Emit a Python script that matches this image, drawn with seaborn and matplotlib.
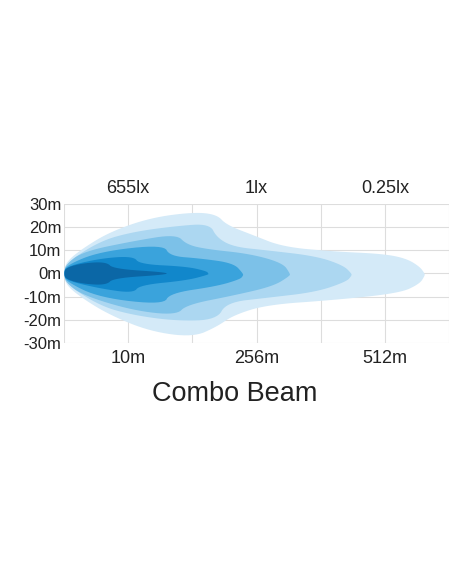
import numpy as np
import matplotlib
matplotlib.use("Agg")
import matplotlib.pyplot as plt
import seaborn as sns

# beam contours: x in grid units (0..6), upper/lower half widths in metres
c1_ux = [0, 0.03, 0.30, 0.72, 1.34, 2.01, 2.38, 2.53, 2.95, 3.41, 4.19, 4.97, 5.33, 5.54, 5.62]
c1_uy = [0, 5, 11, 18, 24, 26.5, 25.5, 21, 16.5, 11.5, 9.5, 8.5, 6.5, 3, 0]
c1_lx = [5.62, 5.54, 5.23, 4.19, 3.16, 2.64, 2.38, 2.01, 1.34, 0.72, 0.30, 0.03]
c1_ly = [-1, -4.5, -8.5, -11.5, -13.5, -18, -23, -27.5, -25, -18, -11, -5]

c2_ux = [0, 0.03, 0.56, 1.08, 1.75, 2.27, 2.38, 2.64, 3.16, 3.93, 4.35, 4.48]
c2_uy = [0, 4.5, 14, 18, 20.5, 21.5, 15.5, 11.5, 10, 7.5, 3.5, 0]
c2_lx = [4.48, 4.40, 3.93, 3.16, 2.53, 2.38, 1.75, 1.08, 0.56, 0.03]
c2_ly = [-1, -3.5, -8, -10.5, -12.5, -20, -20.5, -18, -14, -4.5]

c3_ux = [0, 0.03, 0.30, 1.08, 1.75, 1.91, 2.22, 2.90, 3.41, 3.52]
c3_uy = [0, 4, 9.5, 14, 17, 12.5, 10.5, 8.5, 4.5, 0]
c3_lx = [3.52, 3.26, 2.64, 1.91, 1.75, 1.08, 0.30, 0.03]
c3_ly = [-1, -5.5, -9.5, -13.5, -18, -16, -9.5, -4]

c4_ux = [0, 0.03, 0.56, 1.55, 1.65, 2.12, 2.64, 2.79]
c4_uy = [0, 3.5, 9.5, 12.5, 7.5, 6.5, 4.5, 0]
c4_lx = [2.79, 2.74, 2.38, 1.65, 1.55, 0.56, 0.03]
c4_ly = [-1, -2.5, -5.5, -8.5, -13.5, -10.5, -3.5]

c5_ux = [0, 0.03, 0.56, 1.08, 1.18, 1.91, 2.22, 2.25]
c5_uy = [0, 3, 6.5, 7.5, 4, 3, 1, 0]
c5_lx = [2.25, 1.91, 1.18, 1.08, 0.56, 0.03]
c5_ly = [-0.5, -3, -5, -8.5, -6.5, -3]

c6_ux = [0, 0.03, 0.30, 0.66, 0.77, 1.60]
c6_uy = [0, 2.5, 4.5, 5, 2, 0.5]
c6_lx = [1.60, 0.77, 0.66, 0.30, 0.03]
c6_ly = [-0.5, -2, -5, -4.5, -2.5]

colors = ["#d4eaf8", "#acd7f1", "#7cc1e8", "#3aa3dc", "#1187cb", "#0b67a6"]
contours = [(c1_ux, c1_uy, c1_lx, c1_ly), (c2_ux, c2_uy, c2_lx, c2_ly),
            (c3_ux, c3_uy, c3_lx, c3_ly), (c4_ux, c4_uy, c4_lx, c4_ly),
            (c5_ux, c5_uy, c5_lx, c5_ly), (c6_ux, c6_uy, c6_lx, c6_ly)]

y_ticks = [30, 20, 10, 0, -10, -20, -30]
bottom_pos = [1, 3, 5]
bottom_labels = ["10m", "256m", "512m"]
top_labels = ["655lx", "1lx", "0.25lx"]


def rounded(xs, ys, n=3):
    # corner cutting so the outline is drawn smooth
    p = np.column_stack([xs, ys]).astype(float)
    for _ in range(n):
        q = np.roll(p, -1, axis=0)
        p = np.stack([0.75 * p + 0.25 * q, 0.25 * p + 0.75 * q], axis=1).reshape(-1, 2)
    return p[:, 0], p[:, 1]


sns.set_style("white")
plt.rcParams["font.family"] = ["Liberation Sans", "DejaVu Sans"]
fig = plt.figure(figsize=(4.52, 5.84), dpi=100)
ax = fig.add_axes([0.1416, 0.4127, 0.852, 0.238])

for (ux, uy, lx, ly), col in zip(contours, colors):
    sx, sy = rounded(ux + lx, uy + ly)
    ax.fill(sx, sy, color=col, lw=0, zorder=2)

ax.set_xlim(0, 6)
ax.set_ylim(-30, 30)
ax.set_xticks(range(7))
ax.set_xticklabels([])
ax.set_yticks(y_ticks)
ax.set_yticklabels([f"{v}m" for v in y_ticks], fontsize=12, color="#222222")
ax.grid(True, color="#dddddd", lw=0.8, zorder=0)
ax.set_axisbelow(True)
for s in ax.spines.values():
    s.set_visible(False)
ax.tick_params(length=0, pad=2)

for p, lab in zip(bottom_pos, bottom_labels):
    ax.text(p, -33, lab, ha="center", va="top", fontsize=13, color="#222222")
for p, lab in zip(bottom_pos, top_labels):
    ax.text(p, 33, lab, ha="center", va="bottom", fontsize=13, color="#222222")

fig.text(0.52, 1 - 394 / 584, "Combo Beam", ha="center", va="center", fontsize=19.5, color="#222222")

fig.savefig("out.png", dpi=100)
